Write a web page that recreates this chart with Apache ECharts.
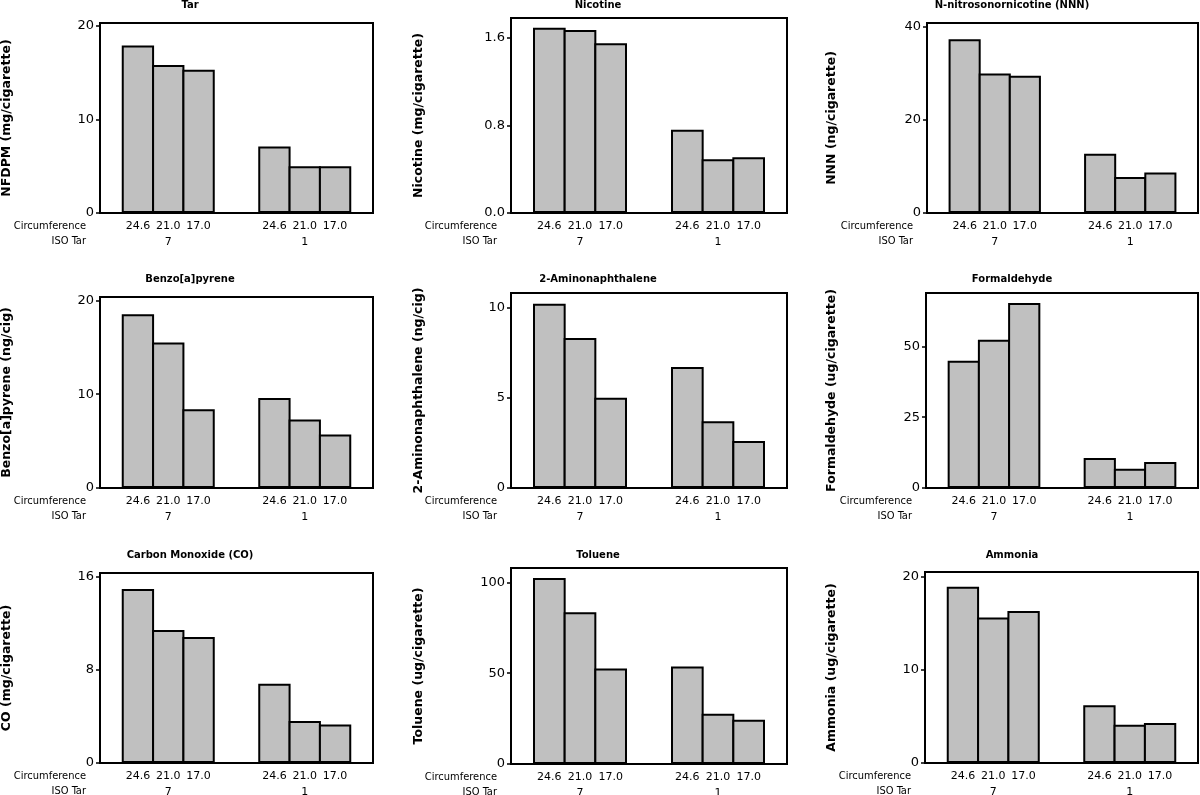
<!DOCTYPE html>
<html>
<head>
<meta charset="utf-8">
<title>Smoke yields by circumference and ISO tar</title>
<script src="https://cdn.jsdelivr.net/npm/echarts@6/dist/echarts.min.js"></script>
<style>
  html, body { margin: 0; padding: 0; background: #fff; }
  #chart { width: 1200px; height: 795px; }
</style>
</head>
<body>
<div id="chart"></div>
<script>
// cigarette circumference (mm) inside each ISO tar group
var circumference = ['24.6', '21.0', '17.0'];
var isoTar = ['7', '1'];

// bar heights, ISO tar 7 group first then ISO tar 1 group
var tar = [17.9, 15.8, 15.3, 7.1, 5.0, 5.0];
var nicotine = [1.69, 1.67, 1.55, 0.76, 0.49, 0.51];
var nnn = [37.2, 29.9, 29.4, 12.7, 7.7, 8.7];
var benzoPyrene = [18.5, 15.5, 8.4, 9.6, 7.3, 5.7];
var aminonaphthalene = [10.2, 8.3, 5.0, 6.7, 3.7, 2.6];
var formaldehyde = [44.9, 52.3, 65.3, 10.6, 6.8, 9.2];
var carbonMonoxide = [14.9, 11.4, 10.8, 6.8, 3.6, 3.3];
var toluene = [102.4, 83.5, 52.6, 53.7, 27.6, 24.3];
var ammonia = [18.9, 15.6, 16.3, 6.2, 4.1, 4.3];

var titles = ['Tar', 'Nicotine', 'N-nitrosonornicotine (NNN)',
  'Benzo[a]pyrene', '2-Aminonaphthalene', 'Formaldehyde',
  'Carbon Monoxide (CO)', 'Toluene', 'Ammonia'];
var yNames = ['NFDPM (mg/cigarette)', 'Nicotine (mg/cigarette)', 'NNN (ng/cigarette)',
  'Benzo[a]pyrene (ng/cig)', '2-Aminonaphthalene (ng/cig)', 'Formaldehyde (ug/cigarette)',
  'CO (mg/cigarette)', 'Toluene (ug/cigarette)', 'Ammonia (ug/cigarette)'];
var yTicks = [[0, 10, 20], [0, 0.8, 1.6], [0, 20, 40],
  [0, 10, 20], [0, 5, 10], [0, 25, 50],
  [0, 8, 16], [0, 50, 100], [0, 10, 20]];
var yMax = [20.3, 1.78, 40.7, 20.35, 10.79, 68.8, 16.28, 107.9, 20.47];

var seriesValues = [tar, nicotine, nnn, benzoPyrene, aminonaphthalene, formaldehyde,
  carbonMonoxide, toluene, ammonia];

// plot boxes: left, right, top, zero line (px)
var boxes = [
  [100, 373, 23, 213], [511, 787, 18, 213], [927, 1198, 23, 213],
  [100, 373, 297, 488], [511, 787, 293, 488], [926, 1198, 293, 488],
  [100, 373, 573, 763], [511, 787, 568, 764], [925, 1198, 572, 763]
];
var titleX = [190, 598, 1012];
var titleTop = [0, 274, 550];
var nameX = [7, 419, 832];

// 18 half-bar slots: bars sit on slots 2,4,6 and 11,13,15, group label under 4 and 13
var slotCount = 18;
var barSlots = [2, 4, 6, 11, 13, 15];
var groupSlots = [4, 13];

var tickLabels = [];
var groupLabels = [];
for (var s = 0; s < slotCount; s++) { tickLabels.push(''); groupLabels.push(''); }
barSlots.forEach(function (slot, k) { tickLabels[slot] = circumference[k % 3]; });
groupSlots.forEach(function (slot, k) { groupLabels[slot] = isoTar[k]; });

var numFont = 'DejaVu Sans';
var labelFont = '"DejaVu Sans Condensed", "Liberation Sans", sans-serif';

var option = {
  animation: false,
  backgroundColor: '#fff',
  title: [], grid: [], xAxis: [], yAxis: [], series: [], graphic: []
};

seriesValues.forEach(function (vals, i) {
  var b = boxes[i];
  var col = i % 3, row = Math.floor(i / 3);
  var slotW = (b[1] - b[0]) / slotCount;

  option.title.push({
    text: titles[i], left: titleX[col], top: titleTop[row], textAlign: 'center', padding: 0,
    textStyle: { fontFamily: numFont, fontWeight: 'bold', fontSize: 10, color: '#000' }
  });

  option.grid.push({
    left: b[0], top: b[2], width: b[1] - b[0], height: b[3] - b[2],
    show: true, borderColor: '#000', borderWidth: 2, outerBoundsMode: 'none'
  });

  option.xAxis.push({
    type: 'category', gridIndex: i, data: tickLabels, position: 'bottom',
    axisLine: { lineStyle: { color: '#000', width: 2 } },
    axisTick: {
      alignWithLabel: true, length: 5, lineStyle: { color: '#000', width: 1.5 },
      interval: function (idx) { return tickLabels[idx] !== ''; }
    },
    axisLabel: { interval: 0, margin: 8, color: '#000', fontFamily: numFont, fontSize: 11 }
  });
  option.xAxis.push({
    type: 'category', gridIndex: i, data: groupLabels, position: 'bottom', offset: 16,
    axisLine: { show: false }, axisTick: { show: false },
    axisLabel: { interval: 0, margin: 8, color: '#000', fontFamily: numFont, fontSize: 11 }
  });

  var decimals = i === 1 ? 1 : 0;
  option.yAxis.push({
    type: 'value', gridIndex: i, min: 0, max: yMax[i],
    name: yNames[i], nameLocation: 'middle', nameGap: b[0] - nameX[col],
    nameTextStyle: { fontFamily: numFont, fontWeight: 'bold', fontSize: 12.5, color: '#000', verticalAlign: 'middle' },
    axisLine: { show: true, lineStyle: { color: '#000', width: 2 } },
    axisTick: { show: true, length: 4, customValues: yTicks[i], lineStyle: { color: '#000', width: 1.5 } },
    axisLabel: {
      customValues: yTicks[i], margin: 6, color: '#000', fontFamily: numFont, fontSize: 13,
      formatter: function (v) { return v.toFixed(decimals); }
    },
    splitLine: { show: false }
  });

  var slotData = [];
  for (var s = 0; s < slotCount; s++) slotData.push('-');
  barSlots.forEach(function (slot, k) { slotData[slot] = vals[k]; });

  option.series.push({
    type: 'bar', name: titles[i], xAxisIndex: i * 2, yAxisIndex: i,
    data: slotData, barWidth: 2 * slotW + 2, silent: true,
    itemStyle: { color: '#c0c0c0', borderColor: '#000', borderWidth: 2 }
  });

  option.graphic.push({
    type: 'text', x: b[0] - 14, y: b[3] + 13,
    style: { text: 'Circumference', align: 'right', verticalAlign: 'middle', fill: '#000',
      fontFamily: labelFont, fontSize: 11 }
  });
  option.graphic.push({
    type: 'text', x: b[0] - 14, y: b[3] + 28,
    style: { text: 'ISO Tar', align: 'right', verticalAlign: 'middle', fill: '#000',
      fontFamily: labelFont, fontSize: 11 }
  });
});

var chart = echarts.init(document.getElementById('chart'));
chart.setOption(option);
</script>
</body>
</html>
